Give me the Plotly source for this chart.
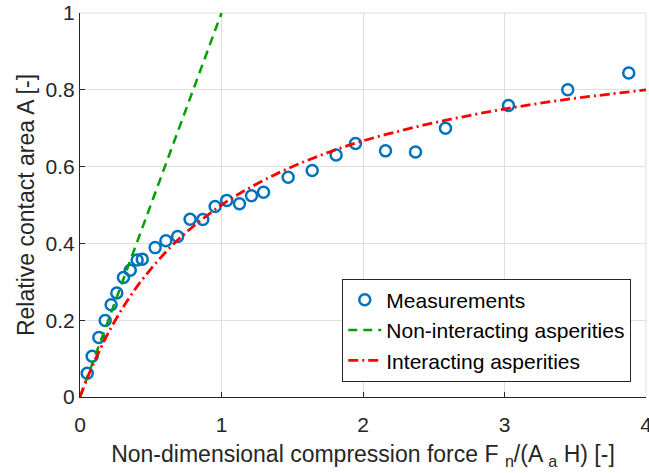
import plotly.graph_objects as go

meas_F = [0.051, 0.086, 0.133, 0.178, 0.220, 0.260, 0.307, 0.355, 0.404, 0.440,
          0.531, 0.607, 0.690, 0.778, 0.868, 0.955, 1.037, 1.127, 1.212, 1.297,
          1.471, 1.641, 1.810, 1.947, 2.159, 2.371, 2.583, 3.028, 3.447, 3.878]
meas_A = [0.062, 0.106, 0.155, 0.199, 0.240, 0.271, 0.311, 0.330, 0.357, 0.359,
          0.389, 0.407, 0.418, 0.463, 0.462, 0.496, 0.512, 0.503, 0.524, 0.533,
          0.572, 0.590, 0.630, 0.660, 0.641, 0.638, 0.700, 0.759, 0.800, 0.844]

# Non-interacting asperities line
nonint_F = [0.0, 1.0]
nonint_A = [0.0, 1.0]

# Interacting asperities curve
int_F = [0.0, 0.05, 0.1, 0.15, 0.2, 0.3, 0.4, 0.5, 0.6, 0.7, 0.8, 1.0, 1.2, 1.4,
         1.6, 1.8, 2.0, 2.25, 2.5, 2.75, 3.0, 3.25, 3.5, 3.75, 4.0]
int_A = [0.0, 0.048, 0.091, 0.130, 0.167, 0.231, 0.286, 0.333, 0.375, 0.412,
         0.444, 0.500, 0.545, 0.583, 0.615, 0.643, 0.667, 0.692, 0.714, 0.733,
         0.750, 0.765, 0.778, 0.789, 0.800]

x_ticks = [0, 1, 2, 3, 4]
y_ticks = [0, 0.2, 0.4, 0.6, 0.8, 1]
y_tick_text = ["0", "0.2", "0.4", "0.6", "0.8", "1"]

FONT = "Liberation Sans, Arial, sans-serif"
AXC = "#262626"
GRID = "#dfdfdf"

fig = go.Figure()
fig.add_trace(go.Scatter(
    x=meas_F, y=meas_A, mode="markers", name="Measurements",
    marker=dict(symbol="circle-open", size=11, color="#0072BD",
                line=dict(width=2.5, color="#0072BD")),
))
fig.add_trace(go.Scatter(
    x=nonint_F, y=nonint_A, mode="lines", name="Non-interacting asperities",
    line=dict(color="#00A000", width=2.5, dash="9px,6px"),
))
fig.add_trace(go.Scatter(
    x=int_F, y=int_A, mode="lines", name="Interacting asperities",
    line=dict(color="#FF0000", width=2.8, dash="10px,4px,2px,4px", shape="spline"),
))

# edge grid lines (top at A=1, right at F=4) that plotly clips
fig.add_shape(type="line", xref="paper", yref="paper", x0=0, x1=1, y0=1, y1=1,
              line=dict(color=GRID, width=1), layer="below")
fig.add_shape(type="line", xref="paper", yref="paper", x0=1, x1=1, y0=0, y1=1,
              line=dict(color=GRID, width=1), layer="below")

fig.update_layout(
    width=649, height=473,
    margin=dict(l=80, r=3, t=13, b=76),
    paper_bgcolor="white", plot_bgcolor="white",
    font=dict(family=FONT, size=21, color=AXC),
    legend=dict(
        x=0.974, y=0.04, xanchor="right", yanchor="bottom",
        bgcolor="white", bordercolor=AXC, borderwidth=1,
        font=dict(size=21, color="black"), itemwidth=33,
        tracegroupgap=0,
    ),
    showlegend=True,
)
fig.update_xaxes(
    range=[0, 4], tickvals=x_ticks, ticks="inside", ticklen=5, tickcolor=AXC,
    showline=True, linecolor=AXC, linewidth=1, showgrid=True, gridcolor=GRID,
    zeroline=False, tickfont=dict(size=21, color=AXC), ticklabelstandoff=9,
    ticklabeloverflow="allow", automargin=False,
    title=dict(text="Non-dimensional compression force F <sub>n</sub>/(A <sub>a</sub> H) [-]",
               font=dict(size=23, color=AXC), standoff=10),
)
fig.update_yaxes(
    range=[0, 1], tickvals=y_ticks, ticktext=y_tick_text, ticks="inside", ticklen=5,
    tickcolor=AXC, showline=True, linecolor=AXC, linewidth=1, showgrid=True,
    gridcolor=GRID, zeroline=False, tickfont=dict(size=21, color=AXC),
    ticklabeloverflow="allow", automargin=False,
    title=dict(text="Relative contact area A [-]", font=dict(size=23, color=AXC), standoff=4),
)

fig.write_html("out.html")
